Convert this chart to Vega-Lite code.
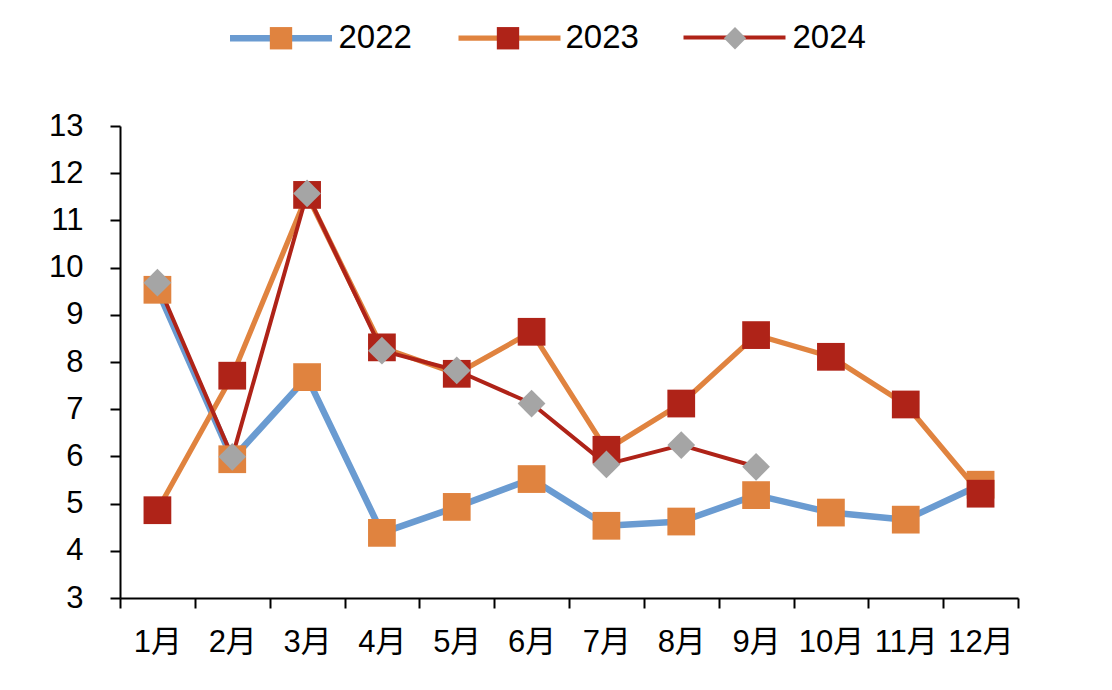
{
  "$schema": "https://vega.github.io/schema/vega-lite/v6.json",
  "width": 898,
  "height": 472,
  "autosize": "none",
  "padding": {"left": 120, "top": 126, "right": 94, "bottom": 92},
  "background": "white",
  "config": {
    "view": {"stroke": null},
    "axis": {
      "domainColor": "black",
      "domainWidth": 2,
      "tickColor": "black",
      "tickWidth": 2,
      "tickSize": 10,
      "labelColor": "black",
      "labelFontSize": 31,
      "labelFont": "Liberation Sans, Noto Sans CJK SC",
      "grid": false,
      "title": null
    }
  },
  "data": {
    "values": [
      {"m": "1月", "year": "2022", "v": 9.53},
      {"m": "2月", "year": "2022", "v": 5.94},
      {"m": "3月", "year": "2022", "v": 7.68},
      {"m": "4月", "year": "2022", "v": 4.38},
      {"m": "5月", "year": "2022", "v": 4.93},
      {"m": "6月", "year": "2022", "v": 5.52},
      {"m": "7月", "year": "2022", "v": 4.53},
      {"m": "8月", "year": "2022", "v": 4.62},
      {"m": "9月", "year": "2022", "v": 5.18},
      {"m": "10月", "year": "2022", "v": 4.81},
      {"m": "11月", "year": "2022", "v": 4.66},
      {"m": "12月", "year": "2022", "v": 5.4},
      {"m": "1月", "year": "2023", "v": 4.86},
      {"m": "2月", "year": "2023", "v": 7.71},
      {"m": "3月", "year": "2023", "v": 11.54},
      {"m": "4月", "year": "2023", "v": 8.31},
      {"m": "5月", "year": "2023", "v": 7.75},
      {"m": "6月", "year": "2023", "v": 8.64},
      {"m": "7月", "year": "2023", "v": 6.14},
      {"m": "8月", "year": "2023", "v": 7.12},
      {"m": "9月", "year": "2023", "v": 8.57},
      {"m": "10月", "year": "2023", "v": 8.11},
      {"m": "11月", "year": "2023", "v": 7.1},
      {"m": "12月", "year": "2023", "v": 5.21},
      {"m": "1月", "year": "2024", "v": 9.68},
      {"m": "2月", "year": "2024", "v": 5.99},
      {"m": "3月", "year": "2024", "v": 11.57},
      {"m": "4月", "year": "2024", "v": 8.24},
      {"m": "5月", "year": "2024", "v": 7.82},
      {"m": "6月", "year": "2024", "v": 7.12},
      {"m": "7月", "year": "2024", "v": 5.83},
      {"m": "8月", "year": "2024", "v": 6.24},
      {"m": "9月", "year": "2024", "v": 5.78}
    ]
  },
  "encoding": {
    "x": {
      "field": "m",
      "type": "nominal",
      "sort": ["1月", "2月", "3月", "4月", "5月", "6月", "7月", "8月", "9月", "10月", "11月", "12月"],
      "scale": {"type": "band", "paddingInner": 0, "paddingOuter": 0},
      "axis": {"tickBand": "extent", "labelAngle": 0, "labelPadding": 19}
    },
    "y": {
      "field": "v",
      "type": "quantitative",
      "scale": {"domain": [3, 13], "nice": false, "zero": false},
      "axis": {"values": [3, 4, 5, 6, 7, 8, 9, 10, 11, 12, 13], "labelPadding": 27}
    }
  },
  "resolve": {"legend": {"fill": "independent", "shape": "independent"}},
  "layer": [
    {
      "mark": {"type": "line", "strokeJoin": "round"},
      "encoding": {
        "stroke": {
          "field": "year",
          "type": "nominal",
          "scale": {"domain": ["2022", "2023", "2024"], "range": ["#6A9BD1", "#E0833F", "#AF2318"]},
          "legend": {
            "title": null, "orient": "none", "legendX": 106.5, "legendY": -142.5,
            "direction": "horizontal", "symbolType": "stroke", "symbolSize": 10404,
            "labelOpacity": 0, "labelFontSize": 33, "labelFont": "Liberation Sans",
            "labelOffset": 3, "columnPadding": 35, "padding": 0
          }
        },
        "strokeWidth": {
          "field": "year",
          "type": "ordinal",
          "scale": {"domain": ["2022", "2023", "2024"], "range": [6.5, 4, 4.5]},
          "legend": {
            "title": null, "orient": "none", "legendX": 106.5, "legendY": -142.5,
            "direction": "horizontal", "symbolType": "stroke", "symbolSize": 10404,
            "labelOpacity": 0, "labelFontSize": 33, "labelFont": "Liberation Sans",
            "labelOffset": 3, "columnPadding": 35, "padding": 0
          }
        }
      }
    },
    {
      "mark": {"type": "point", "filled": true, "opacity": 1, "strokeWidth": 0, "size": 770},
      "encoding": {
        "fill": {
          "field": "year",
          "type": "nominal",
          "scale": {"domain": ["2022", "2023", "2024"], "range": ["#E0833F", "#AF2318", "#A5A5A5"]},
          "legend": {
            "title": null, "orient": "none", "legendX": 106.5, "legendY": -104.5,
            "direction": "horizontal", "symbolSize": 500, "symbolOffset": 38,
            "symbolStrokeColor": "transparent", "symbolStrokeWidth": 0,
            "labelFontSize": 33, "labelFont": "Liberation Sans", "labelColor": "black",
            "labelOffset": 41, "columnPadding": 41, "padding": 0
          }
        },
        "shape": {
          "field": "year",
          "type": "nominal",
          "scale": {"domain": ["2022", "2023", "2024"], "range": ["square", "square", "diamond"]},
          "legend": {
            "title": null, "orient": "none", "legendX": 106.5, "legendY": -104.5,
            "direction": "horizontal", "symbolSize": 500, "symbolOffset": 38,
            "symbolStrokeColor": "transparent", "symbolStrokeWidth": 0,
            "labelFontSize": 33, "labelFont": "Liberation Sans", "labelColor": "black",
            "labelOffset": 41, "columnPadding": 41, "padding": 0
          }
        }
      }
    }
  ]
}
